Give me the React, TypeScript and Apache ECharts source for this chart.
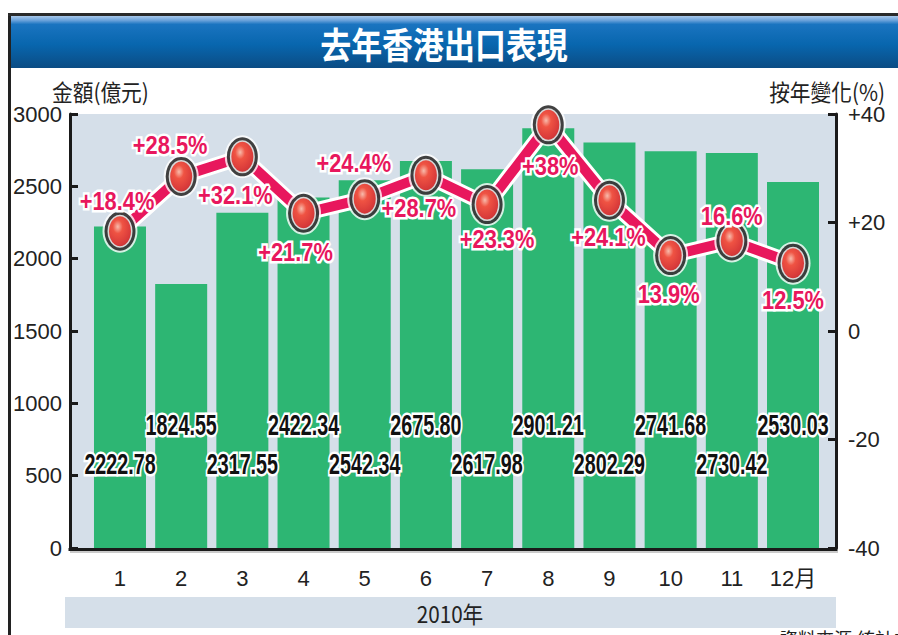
import React, { useEffect, useRef } from 'react';
import * as echarts from 'echarts';

const months = ['1', '2', '3', '4', '5', '6', '7', '8', '9', '10', '11', '12月'];
const exportValues = [2222.78, 1824.55, 2317.55, 2422.34, 2542.34, 2675.8, 2617.98, 2901.21, 2802.29, 2741.68, 2730.42, 2530.03];
const yoyChange = [18.4, 28.5, 32.1, 21.7, 24.4, 28.7, 23.3, 38, 24.1, 13.9, 16.6, 12.5];
const yoyLabels = ['+18.4%', '+28.5%', '+32.1%', '+21.7%', '+24.4%', '+28.7%', '+23.3%', '+38%', '+24.1%', '13.9%', '16.6%', '12.5%'];
const leftAxisRange = { min: 0, max: 3000, interval: 500 };
const rightAxisRange = { min: -40, max: 40, interval: 20 };

const titleText = '去年香港出口表現';
const leftAxisName = '金額(億元)';
const rightAxisName = '按年變化(%)';
const yearText = '2010年';
const sourceText = '資料來源:統計處';

// label placement (styling, not data)
const pctLabelOffsets = [
  [-3, -30], [-11, -32], [-7, 38], [-8, 39], [-11, -36], [-7, 32],
  [10, 34], [2, 41], [-1, 37], [-2, 38], [0, -25], [0, 37],
];
const barLabelRise = [84, 123];

const SANS = "'Liberation Sans', Arial, sans-serif";
const CJK = "'Noto Sans CJK TC', 'Noto Sans CJK SC', sans-serif";

const W = 898;
const H = 635;
const gridL = 89.4;
const gridR = 823.6;
const gridT = 114;
const gridB = 548;
const plotL = 70;
const plotR = 836;

export default function App() {
  const ref = useRef<HTMLDivElement>(null);
  useEffect(() => {
    document.body.style.margin = '0';
    if (!ref.current) return;
    const chart = echarts.init(ref.current, undefined, { renderer: 'svg' });
    const option: any = {
      animation: false,
      backgroundColor: '#ffffff',
      grid: {
        left: gridL,
        right: W - gridR,
        top: gridT,
        bottom: H - gridB,
        containLabel: false,
      },
      xAxis: {
        type: 'category',
        data: months,
        axisLine: { show: false },
        axisTick: { show: false },
        axisLabel: {
          interval: 0,
          margin: 19,
          fontSize: 22,
          color: '#222',
          fontFamily: "'Liberation Sans', 'Noto Sans CJK TC', sans-serif",
        },
      },
      yAxis: [
        {
          type: 'value',
          position: 'left',
          offset: gridL - plotL,
          min: leftAxisRange.min,
          max: leftAxisRange.max,
          interval: leftAxisRange.interval,
          axisLine: { show: true, lineStyle: { color: '#1a1a1a', width: 3 } },
          axisTick: { show: true, inside: true, length: 8, lineStyle: { color: '#1a1a1a', width: 3 } },
          axisLabel: {
            margin: 8,
            fontSize: 22,
            color: '#222',
            fontFamily: SANS,
            formatter: (v: number) => String(v),
          },
          splitLine: { show: false },
        },
        {
          type: 'value',
          position: 'right',
          offset: plotR - gridR,
          min: rightAxisRange.min,
          max: rightAxisRange.max,
          interval: rightAxisRange.interval,
          axisLine: { show: true, lineStyle: { color: '#1a1a1a', width: 3 } },
          axisTick: { show: true, inside: true, length: 8, lineStyle: { color: '#1a1a1a', width: 3 } },
          axisLabel: {
            margin: 12,
            fontSize: 22,
            color: '#222',
            fontFamily: SANS,
            formatter: (v: number) => (v > 0 ? '+' + v : String(v)),
          },
          splitLine: { show: false },
        },
      ],
      series: [
        {
          type: 'bar',
          data: exportValues,
          barWidth: 52,
          itemStyle: { color: '#2db673' },
          z: 2,
        },
        {
          type: 'line',
          yAxisIndex: 1,
          data: yoyChange,
          symbol: 'none',
          lineStyle: { color: '#ffffff', width: 16 },
          z: 3,
          silent: true,
        },
        {
          type: 'line',
          yAxisIndex: 1,
          data: yoyChange,
          symbol: 'none',
          lineStyle: { color: '#e8175d', width: 10 },
          z: 4,
          silent: true,
        },
        {
          type: 'scatter',
          yAxisIndex: 1,
          data: yoyChange,
          symbol: 'circle',
          symbolSize: [35, 43],
          itemStyle: { color: '#ffffff' },
          z: 5,
        },
        {
          type: 'scatter',
          yAxisIndex: 1,
          data: yoyChange,
          symbol: 'circle',
          symbolSize: [31, 39],
          itemStyle: { color: '#111111' },
          z: 6,
        },
        {
          type: 'scatter',
          yAxisIndex: 1,
          data: yoyChange,
          symbol: 'circle',
          symbolSize: [25, 33],
          itemStyle: { color: '#ffffff' },
          z: 7,
        },
        {
          type: 'scatter',
          yAxisIndex: 1,
          data: yoyChange,
          symbol: 'circle',
          symbolSize: [22, 30],
          itemStyle: {
            color: {
              type: 'radial',
              x: 0.4,
              y: 0.35,
              r: 0.75,
              colorStops: [
                { offset: 0, color: '#ffb4a0' },
                { offset: 0.3, color: '#f5321e' },
                { offset: 0.8, color: '#d81212' },
                { offset: 1, color: '#b80a0a' },
              ],
            },
          },
          z: 8,
        },
      ],
    };
    chart.setOption(option);

    const labelEls: any[] = [];
    exportValues.forEach((v, i) => {
      const base = chart.convertToPixel({ xAxisIndex: 0, yAxisIndex: 0 }, [i, 0]) as number[];
      labelEls.push({
        type: 'text',
        x: base[0],
        y: base[1] - barLabelRise[i % 2],
        scaleX: 0.68,
        z: 20,
        style: {
          text: v.toFixed(2),
          fill: '#111',
          stroke: '#ffffff',
          lineWidth: 5,
          fontSize: 29,
          fontWeight: 'bold',
          fontFamily: SANS,
          textAlign: 'center',
          textVerticalAlign: 'middle',
        },
        silent: true,
      });
    });
    yoyChange.forEach((v, i) => {
      const p = chart.convertToPixel({ xAxisIndex: 0, yAxisIndex: 1 }, [i, v]) as number[];
      labelEls.push({
        type: 'text',
        x: p[0] + pctLabelOffsets[i][0],
        y: p[1] + pctLabelOffsets[i][1],
        scaleX: 0.84,
        z: 21,
        style: {
          text: yoyLabels[i],
          fill: '#e8175d',
          stroke: '#ffffff',
          lineWidth: 5,
          fontSize: 26,
          fontWeight: 'bold',
          fontFamily: SANS,
          textAlign: 'center',
          textVerticalAlign: 'middle',
        },
        silent: true,
      });
    });

    const baseEls: any[] = [
      {
        type: 'rect',
        z: -10,
        shape: { x: plotL, y: gridT, width: plotR - plotL, height: gridB - gridT + 2 },
        style: { fill: '#d5dfe9' },
        silent: true,
      },
      {
        type: 'line',
        z: 10,
        shape: { x1: plotL - 1.5, y1: gridB + 1.5, x2: plotR + 1.5, y2: gridB + 1.5 },
        style: { stroke: '#1a1a1a', lineWidth: 3 },
        silent: true,
      },
      {
        type: 'line',
        z: 9,
        shape: { x1: plotL, y1: gridB + 4, x2: plotR + 2, y2: gridB + 4 },
        style: { stroke: '#b8b8b8', lineWidth: 1.5 },
        silent: true,
      },
      {
        type: 'line',
        shape: { x1: 9.5, y1: 13, x2: 9.5, y2: H },
        style: { stroke: '#222', lineWidth: 3 },
        silent: true,
      },
      {
        type: 'line',
        shape: { x1: 8, y1: 14.5, x2: W, y2: 14.5 },
        style: { stroke: '#2a2a2a', lineWidth: 3 },
        silent: true,
      },
      {
        type: 'rect',
        shape: { x: 11, y: 16, width: W - 11, height: 52 },
        style: {
          fill: {
            type: 'linear',
            x: 0,
            y: 0,
            x2: 0,
            y2: 1,
            colorStops: [
              { offset: 0, color: '#a8c8ea' },
              { offset: 0.08, color: '#6ea4dc' },
              { offset: 0.16, color: '#1a74c0' },
              { offset: 0.55, color: '#0866ae' },
              { offset: 1, color: '#0b4c84' },
            ],
          },
        },
        silent: true,
      },
      {
        type: 'text',
        x: 444,
        y: 43,
        scaleX: 0.86,
        style: {
          text: titleText,
          fill: '#ffffff',
          fontSize: 36,
          fontWeight: 'bold',
          fontFamily: CJK,
          textAlign: 'center',
          textVerticalAlign: 'middle',
        },
        silent: true,
      },
      {
        type: 'text',
        x: 52,
        y: 91,
        scaleX: 0.9,
        style: {
          text: leftAxisName,
          fill: '#222',
          fontSize: 23,
          fontFamily: CJK,
          textAlign: 'left',
          textVerticalAlign: 'middle',
        },
        silent: true,
      },
      {
        type: 'text',
        x: 885,
        y: 91,
        scaleX: 0.9,
        style: {
          text: rightAxisName,
          fill: '#222',
          fontSize: 23,
          fontFamily: CJK,
          textAlign: 'right',
          textVerticalAlign: 'middle',
        },
        silent: true,
      },
      {
        type: 'rect',
        shape: { x: 65, y: 597, width: plotR - 65, height: 31 },
        style: { fill: '#d5dfe9' },
        silent: true,
      },
      {
        type: 'text',
        x: 450,
        y: 613,
        scaleX: 0.9,
        style: {
          text: yearText,
          fill: '#222',
          fontSize: 23,
          fontFamily: CJK,
          textAlign: 'center',
          textVerticalAlign: 'middle',
        },
        silent: true,
      },
      {
        type: 'text',
        x: 780,
        y: 629,
        style: {
          text: sourceText,
          fill: '#222',
          fontSize: 18,
          fontFamily: CJK,
          textAlign: 'left',
          textVerticalAlign: 'top',
        },
        silent: true,
      },
    ];

    chart.setOption({ graphic: { elements: [...baseEls, ...labelEls] } });
    return () => {
      chart.dispose();
    };
  }, []);
  return <div ref={ref} style={{ width: W, height: H }} />;
}
